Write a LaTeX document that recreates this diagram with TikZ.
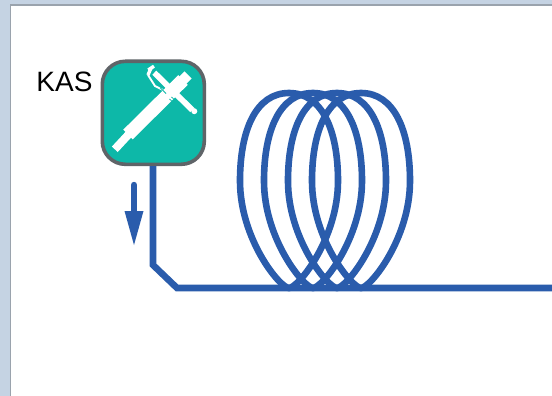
\documentclass[tikz,border=0pt]{standalone}
\usepackage{fontspec}
\setmainfont{Liberation Sans}
\definecolor{bgc}{HTML}{C5D3E3}
\definecolor{edgec}{HTML}{9AA3AD}
\definecolor{blu}{HTML}{2A5CAC}
\definecolor{teal}{HTML}{0DB8A8}
\definecolor{boxe}{HTML}{5F6468}
\tikzset{
  pipe/.style={draw=blu,line width=6.6pt,line join=miter},
  coil/.style={draw=blu,line width=6.6pt},
  iconbar/.style={draw=white,line cap=butt},
  hatch/.style={draw=teal,line width=0.8pt},
  injbox/.style={draw=boxe,line width=3.6pt,fill=teal,rounded corners=23pt,minimum width=102pt,minimum height=103pt,inner sep=0pt,anchor=north west},
}
\begin{document}
\begin{tikzpicture}[x=1pt,y=-1pt]
\useasboundingbox (0,0) rectangle (552,396);
\fill[bgc] (0,0) rectangle (552,396);
\fill[edgec] (9.5,4.5) rectangle (552,396);
\fill[white] (11,6) rectangle (552,396);
\foreach \c in {289,313,337,361}{
  \draw[coil] (\c,288) .. controls (\c+9,288) and (\c+49,239) .. (\c+49,181)
     .. controls (\c+49,130) and (\c+33,93) .. (\c,93)
     .. controls (\c-33,93) and (\c-49,130) .. (\c-49,181)
     .. controls (\c-49,239) and (\c-9,288) .. (\c,288) -- cycle;
}
\node[injbox] (box) at (100.5,59.5) {};
\coordinate (bend1) at (153,265);
\coordinate (bend2) at (177,288);
\coordinate (out) at (552,288);
\draw[pipe] (box.south -| bend1) -- (bend1) -- (bend2) -- (out);
\coordinate (a1) at (134,185);
\coordinate (a2) at (134,212);
\draw[draw=blu,line width=6.4pt,line cap=round] (a1) -- (a2);
\fill[blu] (124.5,211) -- (143.5,211) -- (134,245) -- cycle;
\node[font=\fontsize{28}{30}\selectfont,text=black,inner sep=0pt] (kas) at (64.5,82) {KAS};
% injector icon
\draw[iconbar,line width=8pt] (114.8,149.3) -- (129,134);
\draw[iconbar,line width=13.5pt] (128,134.5) -- (183,80);
\draw[iconbar,line width=10pt] (182,81) -- (188,75);
\draw[iconbar,line width=5.8pt] (154.3,72.7) -- (192.3,110);
\fill[white] (194.3,111.2) circle (3pt);
\draw[iconbar,line width=3.4pt] (148.3,70) -- (154,66.2);
\draw[iconbar,line width=1.9pt] (148,75) -- (155,86) -- (163,90);
\draw[iconbar,line width=3.4pt] (151,68) -- (148,75);
\draw[hatch] (160,87.5) -- (166,93.5);
\draw[hatch] (171.5,97) -- (177.5,102.5);
\draw[hatch] (169.5,99) -- (175.5,104.5);
\end{tikzpicture}
\end{document}
